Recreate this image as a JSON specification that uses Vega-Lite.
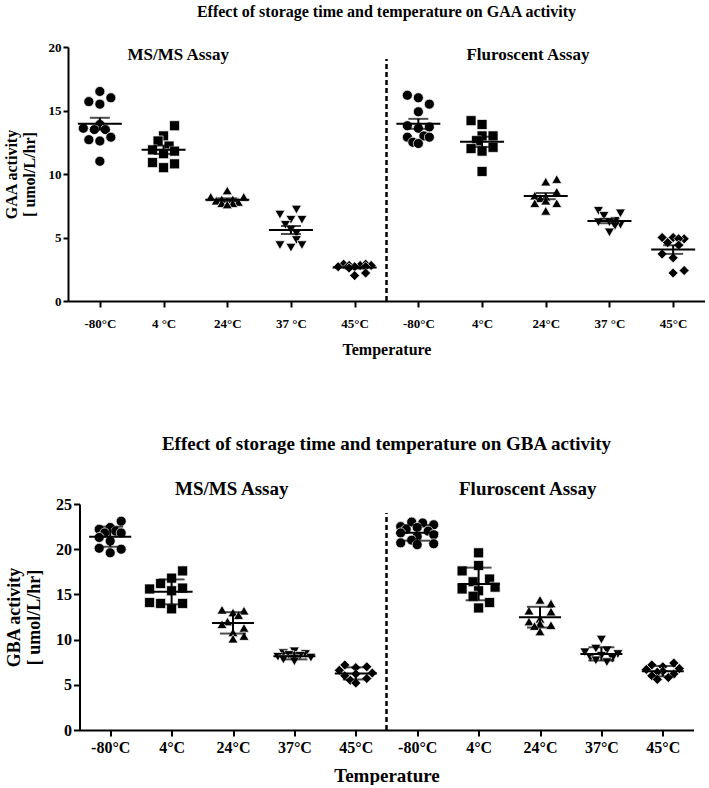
{
  "$schema": "https://vega.github.io/schema/vega-lite/v6.json",
  "background": "white",
  "padding": {"left": 3, "top": 4, "right": 0, "bottom": 0},
  "spacing": 203,
  "bounds": "flush",
  "center": true,
  "datasets": {
    "gaa": [
      {"cat":"MS/MS|-80°C","grp":"-80°C","v":16.5,"l":0},{"cat":"MS/MS|-80°C","grp":"-80°C","v":16.0,"l":2},{"cat":"MS/MS|-80°C","grp":"-80°C","v":15.7,"l":-2},{"cat":"MS/MS|-80°C","grp":"-80°C","v":15.5,"l":0},{"cat":"MS/MS|-80°C","grp":"-80°C","v":13.9,"l":0},{"cat":"MS/MS|-80°C","grp":"-80°C","v":13.6,"l":-3},{"cat":"MS/MS|-80°C","grp":"-80°C","v":13.5,"l":-1},{"cat":"MS/MS|-80°C","grp":"-80°C","v":13.5,"l":1},{"cat":"MS/MS|-80°C","grp":"-80°C","v":12.9,"l":2},{"cat":"MS/MS|-80°C","grp":"-80°C","v":12.7,"l":-2},{"cat":"MS/MS|-80°C","grp":"-80°C","v":12.6,"l":0},{"cat":"MS/MS|-80°C","grp":"-80°C","v":11.0,"l":0},
      {"cat":"MS/MS|4 °C","grp":"4°C","v":13.8,"l":2},{"cat":"MS/MS|4 °C","grp":"4°C","v":13.0,"l":0},{"cat":"MS/MS|4 °C","grp":"4°C","v":12.6,"l":-1},{"cat":"MS/MS|4 °C","grp":"4°C","v":12.2,"l":1},{"cat":"MS/MS|4 °C","grp":"4°C","v":11.9,"l":-2},{"cat":"MS/MS|4 °C","grp":"4°C","v":11.8,"l":2},{"cat":"MS/MS|4 °C","grp":"4°C","v":11.6,"l":0},{"cat":"MS/MS|4 °C","grp":"4°C","v":10.9,"l":-2},{"cat":"MS/MS|4 °C","grp":"4°C","v":10.8,"l":2},{"cat":"MS/MS|4 °C","grp":"4°C","v":10.5,"l":0},
      {"cat":"MS/MS|24°C","grp":"24°C","v":8.7,"l":0},{"cat":"MS/MS|24°C","grp":"24°C","v":8.2,"l":-3},{"cat":"MS/MS|24°C","grp":"24°C","v":8.2,"l":3},{"cat":"MS/MS|24°C","grp":"24°C","v":8.0,"l":-1},{"cat":"MS/MS|24°C","grp":"24°C","v":8.0,"l":1},{"cat":"MS/MS|24°C","grp":"24°C","v":7.9,"l":-2},{"cat":"MS/MS|24°C","grp":"24°C","v":7.8,"l":2},{"cat":"MS/MS|24°C","grp":"24°C","v":7.7,"l":-1},{"cat":"MS/MS|24°C","grp":"24°C","v":7.7,"l":1},{"cat":"MS/MS|24°C","grp":"24°C","v":7.6,"l":0},
      {"cat":"MS/MS|37 °C","grp":"37°C","v":7.2,"l":1},{"cat":"MS/MS|37 °C","grp":"37°C","v":6.8,"l":-2},{"cat":"MS/MS|37 °C","grp":"37°C","v":6.4,"l":0},{"cat":"MS/MS|37 °C","grp":"37°C","v":6.4,"l":2},{"cat":"MS/MS|37 °C","grp":"37°C","v":6.0,"l":-1},{"cat":"MS/MS|37 °C","grp":"37°C","v":5.6,"l":0},{"cat":"MS/MS|37 °C","grp":"37°C","v":5.3,"l":1},{"cat":"MS/MS|37 °C","grp":"37°C","v":4.8,"l":1},{"cat":"MS/MS|37 °C","grp":"37°C","v":4.4,"l":-2},{"cat":"MS/MS|37 °C","grp":"37°C","v":4.4,"l":2},{"cat":"MS/MS|37 °C","grp":"37°C","v":4.2,"l":0},
      {"cat":"MS/MS|45°C","grp":"45°C","v":2.9,"l":-2},{"cat":"MS/MS|45°C","grp":"45°C","v":2.9,"l":2},{"cat":"MS/MS|45°C","grp":"45°C","v":2.8,"l":-1},{"cat":"MS/MS|45°C","grp":"45°C","v":2.8,"l":1},{"cat":"MS/MS|45°C","grp":"45°C","v":2.8,"l":3},{"cat":"MS/MS|45°C","grp":"45°C","v":2.7,"l":0},{"cat":"MS/MS|45°C","grp":"45°C","v":2.7,"l":-3},{"cat":"MS/MS|45°C","grp":"45°C","v":2.7,"l":2},{"cat":"MS/MS|45°C","grp":"45°C","v":2.6,"l":-1},{"cat":"MS/MS|45°C","grp":"45°C","v":2.2,"l":2},{"cat":"MS/MS|45°C","grp":"45°C","v":2.0,"l":0},
      {"cat":"Fluro|-80°C","grp":"-80°C","v":16.2,"l":-2},{"cat":"Fluro|-80°C","grp":"-80°C","v":16.0,"l":0},{"cat":"Fluro|-80°C","grp":"-80°C","v":15.5,"l":2},{"cat":"Fluro|-80°C","grp":"-80°C","v":14.9,"l":0},{"cat":"Fluro|-80°C","grp":"-80°C","v":13.8,"l":-2},{"cat":"Fluro|-80°C","grp":"-80°C","v":13.7,"l":2},{"cat":"Fluro|-80°C","grp":"-80°C","v":13.6,"l":0},{"cat":"Fluro|-80°C","grp":"-80°C","v":13.0,"l":1},{"cat":"Fluro|-80°C","grp":"-80°C","v":12.9,"l":-2},{"cat":"Fluro|-80°C","grp":"-80°C","v":12.9,"l":2},{"cat":"Fluro|-80°C","grp":"-80°C","v":12.5,"l":-1},{"cat":"Fluro|-80°C","grp":"-80°C","v":12.4,"l":0},
      {"cat":"Fluro|4°C","grp":"4°C","v":14.2,"l":-2},{"cat":"Fluro|4°C","grp":"4°C","v":13.9,"l":0},{"cat":"Fluro|4°C","grp":"4°C","v":13.0,"l":2},{"cat":"Fluro|4°C","grp":"4°C","v":13.0,"l":0},{"cat":"Fluro|4°C","grp":"4°C","v":12.6,"l":-1},{"cat":"Fluro|4°C","grp":"4°C","v":12.1,"l":2},{"cat":"Fluro|4°C","grp":"4°C","v":12.0,"l":-2},{"cat":"Fluro|4°C","grp":"4°C","v":11.8,"l":0},{"cat":"Fluro|4°C","grp":"4°C","v":10.2,"l":0},
      {"cat":"Fluro|24°C","grp":"24°C","v":9.6,"l":2},{"cat":"Fluro|24°C","grp":"24°C","v":9.4,"l":0},{"cat":"Fluro|24°C","grp":"24°C","v":8.6,"l":2},{"cat":"Fluro|24°C","grp":"24°C","v":8.3,"l":-2},{"cat":"Fluro|24°C","grp":"24°C","v":8.2,"l":0},{"cat":"Fluro|24°C","grp":"24°C","v":8.1,"l":-1},{"cat":"Fluro|24°C","grp":"24°C","v":7.9,"l":0},{"cat":"Fluro|24°C","grp":"24°C","v":7.7,"l":-2},{"cat":"Fluro|24°C","grp":"24°C","v":7.7,"l":2},{"cat":"Fluro|24°C","grp":"24°C","v":7.1,"l":0},
      {"cat":"Fluro|37 °C","grp":"37°C","v":7.1,"l":-2},{"cat":"Fluro|37 °C","grp":"37°C","v":6.9,"l":2},{"cat":"Fluro|37 °C","grp":"37°C","v":6.7,"l":-1},{"cat":"Fluro|37 °C","grp":"37°C","v":6.3,"l":1},{"cat":"Fluro|37 °C","grp":"37°C","v":6.2,"l":0},{"cat":"Fluro|37 °C","grp":"37°C","v":6.2,"l":-2},{"cat":"Fluro|37 °C","grp":"37°C","v":6.0,"l":2},{"cat":"Fluro|37 °C","grp":"37°C","v":5.9,"l":1},{"cat":"Fluro|37 °C","grp":"37°C","v":5.4,"l":0},
      {"cat":"Fluro|45°C","grp":"45°C","v":5.0,"l":-2},{"cat":"Fluro|45°C","grp":"45°C","v":5.0,"l":0},{"cat":"Fluro|45°C","grp":"45°C","v":4.9,"l":2},{"cat":"Fluro|45°C","grp":"45°C","v":4.9,"l":1},{"cat":"Fluro|45°C","grp":"45°C","v":4.6,"l":-1},{"cat":"Fluro|45°C","grp":"45°C","v":4.4,"l":1},{"cat":"Fluro|45°C","grp":"45°C","v":3.7,"l":-2},{"cat":"Fluro|45°C","grp":"45°C","v":3.4,"l":0},{"cat":"Fluro|45°C","grp":"45°C","v":2.4,"l":2},{"cat":"Fluro|45°C","grp":"45°C","v":2.2,"l":0}
    ],
    "gba": [
      {"cat":"MS/MS|-80°C","grp":"-80°C","v":23.1,"l":2},{"cat":"MS/MS|-80°C","grp":"-80°C","v":22.4,"l":0},{"cat":"MS/MS|-80°C","grp":"-80°C","v":22.2,"l":-2},{"cat":"MS/MS|-80°C","grp":"-80°C","v":22.0,"l":1},{"cat":"MS/MS|-80°C","grp":"-80°C","v":21.8,"l":-1},{"cat":"MS/MS|-80°C","grp":"-80°C","v":21.8,"l":2},{"cat":"MS/MS|-80°C","grp":"-80°C","v":21.3,"l":-2},{"cat":"MS/MS|-80°C","grp":"-80°C","v":20.9,"l":0},{"cat":"MS/MS|-80°C","grp":"-80°C","v":20.1,"l":-2},{"cat":"MS/MS|-80°C","grp":"-80°C","v":20.0,"l":2},{"cat":"MS/MS|-80°C","grp":"-80°C","v":19.6,"l":0},
      {"cat":"MS/MS|4°C","grp":"4°C","v":17.6,"l":2},{"cat":"MS/MS|4°C","grp":"4°C","v":16.8,"l":0},{"cat":"MS/MS|4°C","grp":"4°C","v":16.2,"l":-2},{"cat":"MS/MS|4°C","grp":"4°C","v":15.7,"l":2},{"cat":"MS/MS|4°C","grp":"4°C","v":15.6,"l":-4},{"cat":"MS/MS|4°C","grp":"4°C","v":15.4,"l":0},{"cat":"MS/MS|4°C","grp":"4°C","v":14.1,"l":-4},{"cat":"MS/MS|4°C","grp":"4°C","v":14.0,"l":2},{"cat":"MS/MS|4°C","grp":"4°C","v":14.0,"l":-2},{"cat":"MS/MS|4°C","grp":"4°C","v":13.4,"l":0},
      {"cat":"MS/MS|24°C","grp":"24°C","v":13.3,"l":-2},{"cat":"MS/MS|24°C","grp":"24°C","v":13.2,"l":2},{"cat":"MS/MS|24°C","grp":"24°C","v":13.0,"l":0},{"cat":"MS/MS|24°C","grp":"24°C","v":12.7,"l":1},{"cat":"MS/MS|24°C","grp":"24°C","v":12.0,"l":-1},{"cat":"MS/MS|24°C","grp":"24°C","v":11.7,"l":-2},{"cat":"MS/MS|24°C","grp":"24°C","v":11.3,"l":2},{"cat":"MS/MS|24°C","grp":"24°C","v":10.8,"l":0},{"cat":"MS/MS|24°C","grp":"24°C","v":10.4,"l":2},{"cat":"MS/MS|24°C","grp":"24°C","v":10.1,"l":0},
      {"cat":"MS/MS|37°C","grp":"37°C","v":8.7,"l":0},{"cat":"MS/MS|37°C","grp":"37°C","v":8.5,"l":-2},{"cat":"MS/MS|37°C","grp":"37°C","v":8.4,"l":2},{"cat":"MS/MS|37°C","grp":"37°C","v":8.3,"l":-1},{"cat":"MS/MS|37°C","grp":"37°C","v":8.2,"l":1},{"cat":"MS/MS|37°C","grp":"37°C","v":8.1,"l":-3},{"cat":"MS/MS|37°C","grp":"37°C","v":8.0,"l":3},{"cat":"MS/MS|37°C","grp":"37°C","v":7.9,"l":0},{"cat":"MS/MS|37°C","grp":"37°C","v":7.8,"l":-2},{"cat":"MS/MS|37°C","grp":"37°C","v":7.6,"l":0},
      {"cat":"MS/MS|45°C","grp":"45°C","v":7.2,"l":-2},{"cat":"MS/MS|45°C","grp":"45°C","v":7.0,"l":2},{"cat":"MS/MS|45°C","grp":"45°C","v":6.9,"l":0},{"cat":"MS/MS|45°C","grp":"45°C","v":6.6,"l":-3},{"cat":"MS/MS|45°C","grp":"45°C","v":6.3,"l":3},{"cat":"MS/MS|45°C","grp":"45°C","v":6.2,"l":0},{"cat":"MS/MS|45°C","grp":"45°C","v":6.0,"l":-2},{"cat":"MS/MS|45°C","grp":"45°C","v":5.7,"l":2},{"cat":"MS/MS|45°C","grp":"45°C","v":5.5,"l":-1},{"cat":"MS/MS|45°C","grp":"45°C","v":5.2,"l":0},
      {"cat":"Fluro|-80°C","grp":"-80°C","v":23.0,"l":-1},{"cat":"Fluro|-80°C","grp":"-80°C","v":22.9,"l":1},{"cat":"Fluro|-80°C","grp":"-80°C","v":22.7,"l":3},{"cat":"Fluro|-80°C","grp":"-80°C","v":22.5,"l":-3},{"cat":"Fluro|-80°C","grp":"-80°C","v":22.4,"l":0},{"cat":"Fluro|-80°C","grp":"-80°C","v":22.2,"l":-2},{"cat":"Fluro|-80°C","grp":"-80°C","v":22.0,"l":2},{"cat":"Fluro|-80°C","grp":"-80°C","v":21.8,"l":-3},{"cat":"Fluro|-80°C","grp":"-80°C","v":21.6,"l":3},{"cat":"Fluro|-80°C","grp":"-80°C","v":21.4,"l":0},{"cat":"Fluro|-80°C","grp":"-80°C","v":21.0,"l":-1},{"cat":"Fluro|-80°C","grp":"-80°C","v":20.7,"l":-3},{"cat":"Fluro|-80°C","grp":"-80°C","v":20.6,"l":3},{"cat":"Fluro|-80°C","grp":"-80°C","v":20.5,"l":0},
      {"cat":"Fluro|4°C","grp":"4°C","v":19.6,"l":0},{"cat":"Fluro|4°C","grp":"4°C","v":18.2,"l":0},{"cat":"Fluro|4°C","grp":"4°C","v":17.6,"l":-3},{"cat":"Fluro|4°C","grp":"4°C","v":16.7,"l":2},{"cat":"Fluro|4°C","grp":"4°C","v":16.4,"l":-1},{"cat":"Fluro|4°C","grp":"4°C","v":15.8,"l":3},{"cat":"Fluro|4°C","grp":"4°C","v":15.6,"l":-3},{"cat":"Fluro|4°C","grp":"4°C","v":15.4,"l":0},{"cat":"Fluro|4°C","grp":"4°C","v":14.8,"l":-1},{"cat":"Fluro|4°C","grp":"4°C","v":14.1,"l":2},{"cat":"Fluro|4°C","grp":"4°C","v":13.5,"l":0},
      {"cat":"Fluro|24°C","grp":"24°C","v":14.4,"l":0},{"cat":"Fluro|24°C","grp":"24°C","v":14.0,"l":2},{"cat":"Fluro|24°C","grp":"24°C","v":13.2,"l":-2},{"cat":"Fluro|24°C","grp":"24°C","v":13.1,"l":2},{"cat":"Fluro|24°C","grp":"24°C","v":12.3,"l":0},{"cat":"Fluro|24°C","grp":"24°C","v":12.0,"l":-2},{"cat":"Fluro|24°C","grp":"24°C","v":11.8,"l":0},{"cat":"Fluro|24°C","grp":"24°C","v":11.6,"l":2},{"cat":"Fluro|24°C","grp":"24°C","v":11.5,"l":-1},{"cat":"Fluro|24°C","grp":"24°C","v":10.9,"l":0},
      {"cat":"Fluro|37°C","grp":"37°C","v":10.0,"l":0},{"cat":"Fluro|37°C","grp":"37°C","v":9.0,"l":-1},{"cat":"Fluro|37°C","grp":"37°C","v":8.8,"l":1},{"cat":"Fluro|37°C","grp":"37°C","v":8.6,"l":-3},{"cat":"Fluro|37°C","grp":"37°C","v":8.4,"l":3},{"cat":"Fluro|37°C","grp":"37°C","v":8.2,"l":0},{"cat":"Fluro|37°C","grp":"37°C","v":8.0,"l":-2},{"cat":"Fluro|37°C","grp":"37°C","v":7.9,"l":2},{"cat":"Fluro|37°C","grp":"37°C","v":7.7,"l":-1},{"cat":"Fluro|37°C","grp":"37°C","v":7.5,"l":1},
      {"cat":"Fluro|45°C","grp":"45°C","v":7.4,"l":2},{"cat":"Fluro|45°C","grp":"45°C","v":7.2,"l":-2},{"cat":"Fluro|45°C","grp":"45°C","v":7.0,"l":0},{"cat":"Fluro|45°C","grp":"45°C","v":6.8,"l":3},{"cat":"Fluro|45°C","grp":"45°C","v":6.7,"l":-3},{"cat":"Fluro|45°C","grp":"45°C","v":6.5,"l":0},{"cat":"Fluro|45°C","grp":"45°C","v":6.4,"l":-1},{"cat":"Fluro|45°C","grp":"45°C","v":6.2,"l":2},{"cat":"Fluro|45°C","grp":"45°C","v":6.0,"l":-2},{"cat":"Fluro|45°C","grp":"45°C","v":5.8,"l":1},{"cat":"Fluro|45°C","grp":"45°C","v":5.6,"l":-1}
    ]
  },
  "vconcat": [
    {
      "width": 637,
      "height": 254,
      "title": {"text": "Effect of storage time and temperature on GAA activity", "font": "Liberation Serif", "fontSize": 16, "fontWeight": "bold", "anchor": "middle", "offset": 21, "color": "black"},
      "encoding": {
        "y": {"field": "v", "type": "quantitative", "scale": {"domain": [0, 20], "nice": false},
          "axis": {"values": [0, 5, 10, 15, 20], "title": ["GAA activity", "[ umol/L/hr]"], "titleFontSize": 16, "labelFontSize": 13, "tickSize": 5, "labelPadding": 2, "titlePadding": 11}}
      },
      "layer": [
        {
          "data": {"name": "gaa"},
          "encoding": {
            "x": {"field": "cat", "type": "nominal",
              "scale": {"type": "point", "padding": 0.5, "domain": ["MS/MS|-80°C","MS/MS|4 °C","MS/MS|24°C","MS/MS|37 °C","MS/MS|45°C","Fluro|-80°C","Fluro|4°C","Fluro|24°C","Fluro|37 °C","Fluro|45°C"]},
              "axis": {"labelExpr": "split(datum.value, '|')[1]", "labelAngle": 0, "labelFontSize": 13, "tickSize": 6, "labelPadding": 10, "title": "Temperature", "titleFontSize": 16, "titlePadding": 11}}
          },
          "layer": [
            {"mark": {"type": "point", "filled": true, "size": 100, "color": "black", "stroke": "white", "strokeWidth": 0.7, "opacity": 1},
             "encoding": {
               "xOffset": {"field": "l", "type": "quantitative", "scale": {"domain": [-4, 4], "range": [-22, 22]}},
               "shape": {"field": "grp", "type": "nominal", "scale": {"domain": ["-80°C","4°C","24°C","37°C","45°C"], "range": ["circle","square","triangle-up","triangle-down","diamond"]}, "legend": null}
             }},
            {"mark": {"type": "tick", "size": 44, "thickness": 2, "color": "black"},
             "encoding": {"y": {"aggregate": "mean", "field": "v", "type": "quantitative", "scale": {"domain": [0, 20], "nice": false}}}},
            {"mark": {"type": "errorbar", "extent": "stderr", "ticks": {"size": 20}, "thickness": 2, "color": "black"},
             "encoding": {"y": {"field": "v", "type": "quantitative", "scale": {"domain": [0, 20], "nice": false}, "title": ["GAA activity", "[ umol/L/hr]"]}}}
          ]
        },
        {
          "data": {"values": [{"p": 5, "v": 0, "v2": 19.05}]},
          "mark": {"type": "rule", "strokeDash": [5, 3], "strokeWidth": 2.5, "color": "black"},
          "encoding": {
            "x": {"field": "p", "type": "quantitative", "scale": {"domain": [0, 10], "nice": false, "zero": false}, "axis": null},
            "y2": {"field": "v2"}
          }
        },
        {
          "data": {"values": [{"p": 1.73, "v": 19.4, "label": "MS/MS Assay"}, {"p": 7.22, "v": 19.4, "label": "Fluroscent Assay"}]},
          "mark": {"type": "text", "font": "Liberation Serif", "fontSize": 17, "fontWeight": "bold", "color": "black", "align": "center", "baseline": "middle"},
          "encoding": {
            "x": {"field": "p", "type": "quantitative", "scale": {"domain": [0, 10], "nice": false, "zero": false}, "axis": null},
            "text": {"field": "label"}
          }
        }
      ],
      "resolve": {"scale": {"x": "independent"}}
    },
    {
      "width": 614,
      "height": 226,
      "title": {"text": "Effect of storage time and temperature on GBA activity", "font": "Liberation Serif", "fontSize": 19, "fontWeight": "bold", "anchor": "middle", "offset": 26, "color": "black"},
      "encoding": {
        "y": {"field": "v", "type": "quantitative", "scale": {"domain": [0, 25], "nice": false},
          "axis": {"values": [0, 5, 10, 15, 20, 25], "title": ["GBA activity", "[ umol/L/hr]"], "titleFontSize": 18, "labelFontSize": 16, "tickSize": 6, "labelPadding": 2, "titlePadding": 12}}
      },
      "layer": [
        {
          "data": {"name": "gba"},
          "encoding": {
            "x": {"field": "cat", "type": "nominal",
              "scale": {"type": "point", "padding": 0.5, "domain": ["MS/MS|-80°C","MS/MS|4°C","MS/MS|24°C","MS/MS|37°C","MS/MS|45°C","Fluro|-80°C","Fluro|4°C","Fluro|24°C","Fluro|37°C","Fluro|45°C"]},
              "axis": {"labelExpr": "split(datum.value, '|')[1]", "labelAngle": 0, "labelFontSize": 16, "tickSize": 6, "labelPadding": 3, "title": "Temperature", "titleFontSize": 19, "titlePadding": 11}}
          },
          "layer": [
            {"mark": {"type": "point", "filled": true, "size": 100, "color": "black", "stroke": "white", "strokeWidth": 0.7, "opacity": 1},
             "encoding": {
               "xOffset": {"field": "l", "type": "quantitative", "scale": {"domain": [-4, 4], "range": [-22, 22]}},
               "shape": {"field": "grp", "type": "nominal", "scale": {"domain": ["-80°C","4°C","24°C","37°C","45°C"], "range": ["circle","square","triangle-up","triangle-down","diamond"]}, "legend": null}
             }},
            {"mark": {"type": "tick", "size": 42, "thickness": 2, "color": "black"},
             "encoding": {"y": {"aggregate": "mean", "field": "v", "type": "quantitative", "scale": {"domain": [0, 25], "nice": false}}}},
            {"mark": {"type": "errorbar", "extent": "stdev", "ticks": {"size": 26}, "thickness": 2, "color": "black"},
             "encoding": {"y": {"field": "v", "type": "quantitative", "scale": {"domain": [0, 25], "nice": false}, "title": ["GBA activity", "[ umol/L/hr]"]}}}
          ]
        },
        {
          "data": {"values": [{"p": 5, "v": 0, "v2": 24}]},
          "mark": {"type": "rule", "strokeDash": [5, 3], "strokeWidth": 2.5, "color": "black"},
          "encoding": {
            "x": {"field": "p", "type": "quantitative", "scale": {"domain": [0, 10], "nice": false, "zero": false}, "axis": null},
            "y2": {"field": "v2"}
          }
        },
        {
          "data": {"values": [{"p": 2.48, "v": 26.7, "label": "MS/MS Assay"}, {"p": 7.3, "v": 26.7, "label": "Fluroscent Assay"}]},
          "mark": {"type": "text", "font": "Liberation Serif", "fontSize": 19, "fontWeight": "bold", "color": "black", "align": "center", "baseline": "middle"},
          "encoding": {
            "x": {"field": "p", "type": "quantitative", "scale": {"domain": [0, 10], "nice": false, "zero": false}, "axis": null},
            "text": {"field": "label"}
          }
        }
      ],
      "resolve": {"scale": {"x": "independent"}}
    }
  ],
  "config": {
    "view": {"stroke": null},
    "font": "Liberation Serif",
    "axis": {"labelFont": "Liberation Serif", "labelFontWeight": "bold", "titleFont": "Liberation Serif", "titleFontWeight": "bold", "labelColor": "black", "titleColor": "black", "domainColor": "black", "domainWidth": 2, "tickColor": "black", "tickWidth": 2, "grid": false}
  }
}
